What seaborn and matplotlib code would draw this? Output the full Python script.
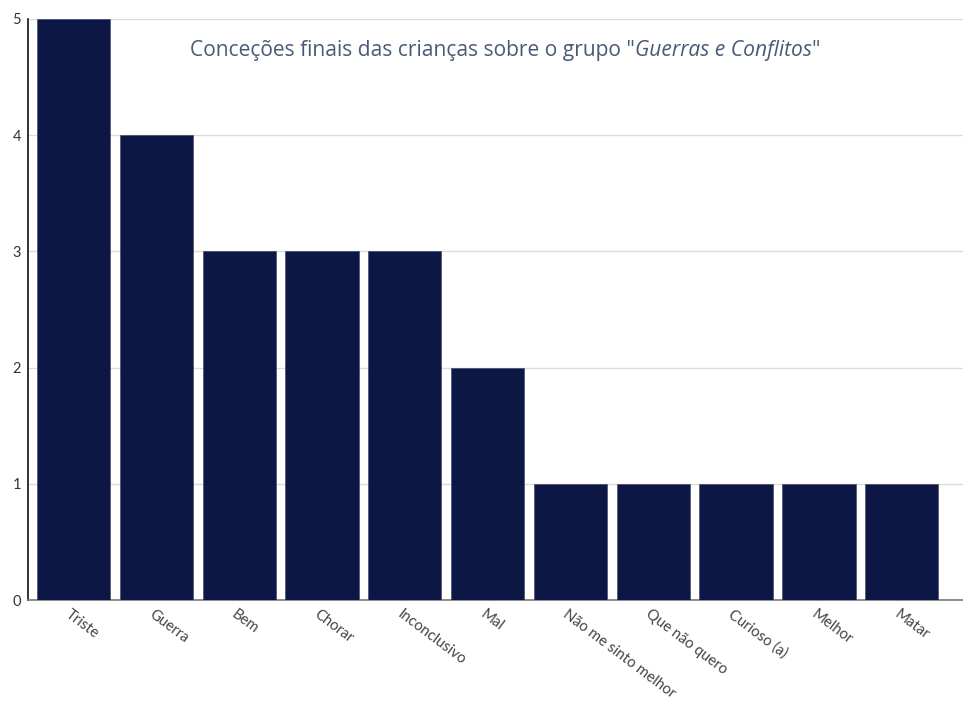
import matplotlib
matplotlib.use("Agg")
import matplotlib.pyplot as plt
import matplotlib.transforms as mtransforms
import seaborn as sns
import pandas as pd

# Data: final conceptions of the children about the "Guerras e Conflitos" group
categories = ["Triste", "Guerra", "Bem", "Chorar", "Inconclusivo", "Mal",
              "Não me sinto melhor", "Que não quero", "Curioso (a)", "Melhor", "Matar"]
counts = [5, 4, 3, 3, 3, 2, 1, 1, 1, 1, 1]
y_ticks = [0, 1, 2, 3, 4, 5]

df = pd.DataFrame({"categoria": categories, "contagem": counts})

sns.set_theme(style="white")
plt.rcParams["font.family"] = ["Lato", "DejaVu Sans"]

fig = plt.figure(figsize=(9.63, 7.01), dpi=100)
ax = fig.add_axes([28 / 963, 101 / 701, 1 - 28 / 963, (600 - 19) / 701])

sns.barplot(data=df, x="categoria", y="contagem", color="#0d1745",
            saturation=1, width=0.885, ax=ax, zorder=3)
for p in ax.patches:
    p.set_edgecolor("#3a4060")
    p.set_linewidth(0.4)

ax.set_xlim(-0.55, 10.74)
ax.set_ylim(0, 5)
ax.set_yticks(y_ticks)
ax.yaxis.grid(True, color="#dcdcdc", linewidth=1, zorder=0)
ax.set_axisbelow(True)

ax.set_xlabel("")
ax.set_ylabel("")

for s in ["top", "right"]:
    ax.spines[s].set_visible(False)
ax.spines["left"].set_color("#111111")
ax.spines["left"].set_linewidth(1.2)
ax.spines["bottom"].set_color("#777777")
ax.spines["bottom"].set_linewidth(1.2)

ax.tick_params(axis="y", length=0, pad=5, labelsize=10.5, labelcolor="#333333")
ax.tick_params(axis="x", length=0, pad=9, labelsize=10.7, labelcolor="#444444")
shift = mtransforms.ScaledTranslation(-6 / 100, 0, fig.dpi_scale_trans)
for lab in ax.get_xticklabels():
    lab.set_rotation(-37)
    lab.set_rotation_mode("anchor")
    lab.set_ha("left")
    lab.set_va("center")
    lab.set_transform(lab.get_transform() + shift)

# Title with italic group name, built from chained text pieces
title_color = "#4a5a76"
tfont = ["Open Sans", "DejaVu Sans"]
tsize = 15.1
t1 = fig.text(190 / 963, 1 - 56 / 701, 'Conceções finais das crianças sobre o grupo "',
              fontsize=tsize, color=title_color, family=tfont, ha="left", va="baseline")
t2 = ax.annotate("Guerras e Conflitos", xy=(1, 0), xycoords=t1,
                 fontsize=tsize, color=title_color, family=tfont, style="italic",
                 ha="left", va="bottom", annotation_clip=False)
t3 = ax.annotate('"', xy=(1, 0), xycoords=t2,
                 fontsize=tsize, color=title_color, family=tfont,
                 ha="left", va="bottom", annotation_clip=False)

fig.savefig("out.png", dpi=100, facecolor="white")
